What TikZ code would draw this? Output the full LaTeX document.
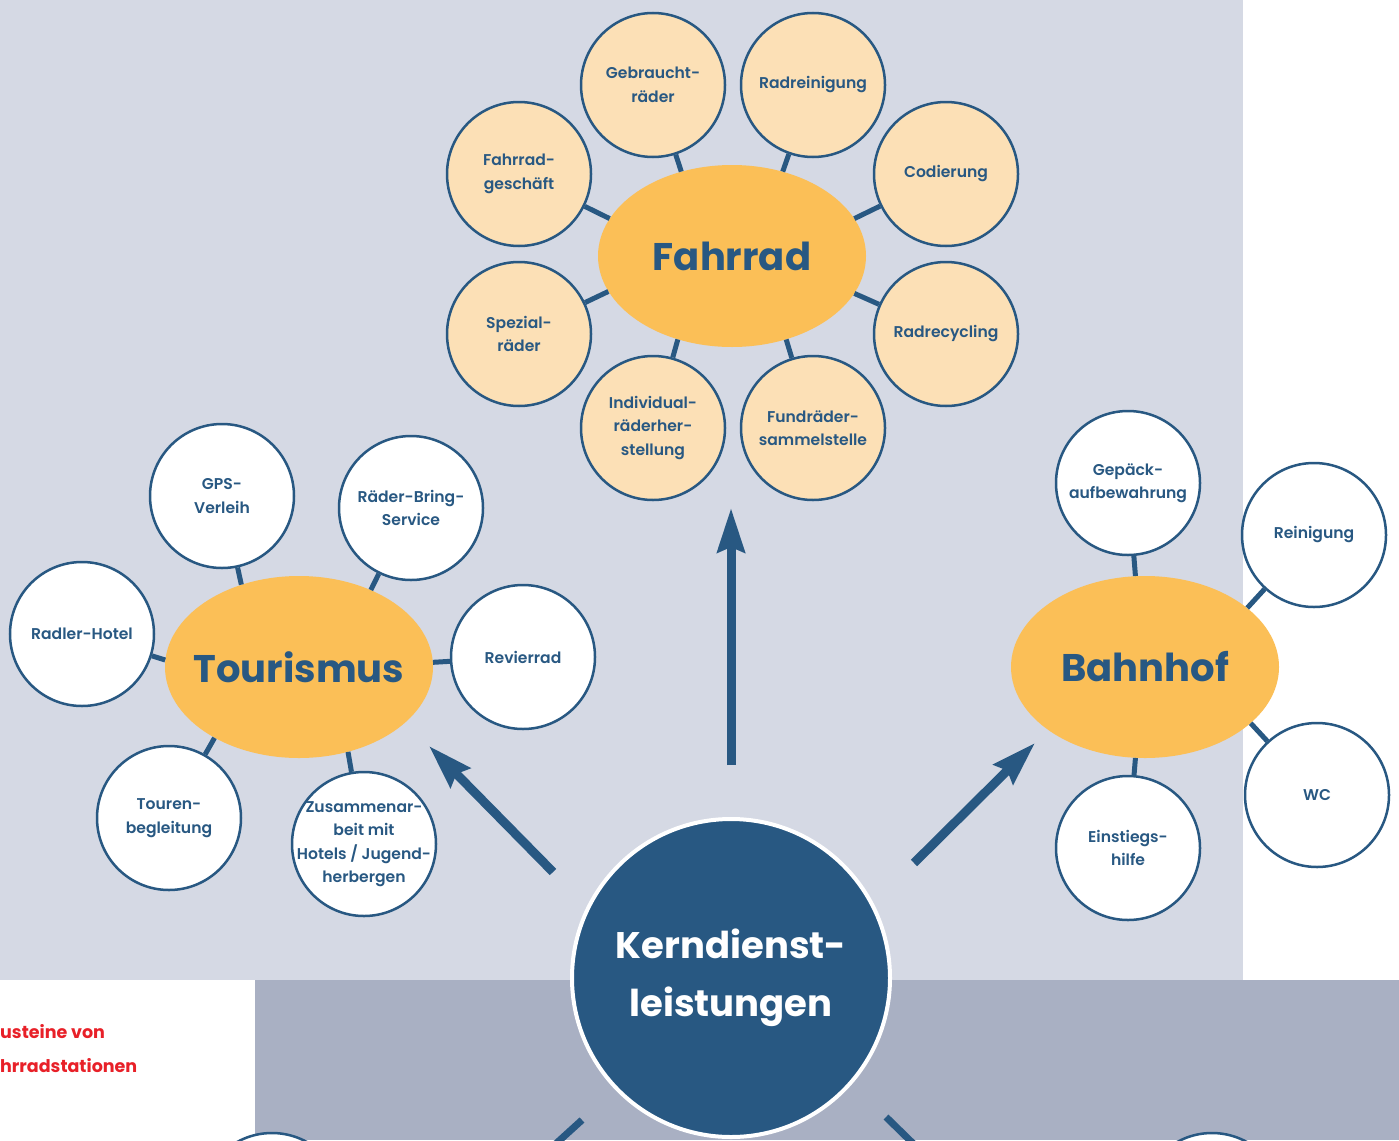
\documentclass[tikz,border=0pt]{standalone}
\usepackage{fontspec}
\setmainfont{Poppins}
\newfontfamily\semi{Poppins SemiBold}
\usetikzlibrary{arrows.meta,shapes.geometric}
\definecolor{bgl}{RGB}{213,217,228}
\definecolor{bgd}{RGB}{169,176,195}
\definecolor{dblue}{RGB}{40,88,130}
\definecolor{orng}{RGB}{251,191,87}
\definecolor{peach}{RGB}{252,224,182}
\definecolor{rred}{RGB}{232,32,40}
\tikzset{
  sat/.style={circle, draw=dblue, line width=2.5pt, minimum size=144pt, inner sep=-22pt,
    align=center, font=\semi\fontsize{15.6}{23.5}\selectfont, text=dblue},
  fsat/.style={sat, fill=peach},
  wsat/.style={sat, fill=white},
  hub/.style={ellipse, fill=orng, minimum width=268pt, minimum height=182pt, inner sep=-60pt,
    font=\bfseries\fontsize{38.5}{38.5}\selectfont, text=dblue},
  link/.style={draw=dblue, line width=5pt},
  bigarrow/.style={draw=dblue, line width=9pt, -{Stealth[length=44pt,width=27pt,inset=5pt]}},
  redtxt/.style={anchor=base west, inner sep=0pt, text=rred, font=\bfseries\fontsize{17.5}{17.5}\selectfont}
}
\begin{document}
\begin{tikzpicture}[x=1pt,y=-1pt]
\useasboundingbox (0,0) rectangle (1399,1140);
\clip (0,0) rectangle (1399,1140);
\fill[white] (0,0) rectangle (1399,1140);
\fill[bgl] (0,0) rectangle (1243,980);
\fill[bgd] (255,980) rectangle (1399,1140);

\node[redtxt] (t1) at (0,1038) {usteine von};
\node[redtxt] (t2) at (0,1072) {hrradstationen};

% hubs
\node[hub] (fah) at (732,256) {Fahrrad};
\node[hub] (tou) at (299,667) {Tourismus};
\node[hub] (bah) at (1145,667) {Bahnhof};

% Fahrrad satellites
\node[fsat] (geb) at (653,85) {Gebraucht-\\räder};
\node[fsat] (rein) at (813,85) {Radreinigung};
\node[fsat] (ges) at (519,174) {Fahrrad-\\geschäft};
\node[fsat] (cod) at (946,174) {Codierung};
\node[fsat] (spe) at (519,334) {Spezial-\\räder};
\node[fsat] (rec) at (946,334) {Radrecycling};
\node[fsat] (ind) at (653,428) {Individual-\\räderher-\\stellung};
\node[fsat] (fund) at (813,428) {Fundräder-\\sammelstelle};

% Tourismus satellites
\node[wsat] (gps) at (222,496) {GPS-\\Verleih};
\node[wsat] (bring) at (411,508) {Räder-Bring-\\Service};
\node[wsat] (hotel) at (82,634) {Radler-Hotel};
\node[wsat] (rev) at (523,657) {Revierrad};
\node[wsat] (tbg) at (169,818) {Touren-\\begleitung};
\node[wsat] (zus) at (364,844) {Zusammenar-\\beit mit\\Hotels / Jugend-\\herbergen};

% Bahnhof satellites
\node[wsat] (gep) at (1128,483) {Gepäck-\\aufbewahrung};
\node[wsat] (brein) at (1314,535) {Reinigung};
\node[wsat] (wc) at (1317,795) {WC};
\node[wsat] (ein) at (1128,848) {Einstiegs-\\hilfe};

% bottom (cut) satellites
\node[wsat] (bl) at (272,1205) {};
\node[wsat] (br) at (1212,1205) {};

% links
\draw[link] (geb) -- (fah.121);
\draw[link] (rein) -- (fah.59);
\draw[link] (ges) -- (fah.163);
\draw[link] (cod) -- (fah.17);
\draw[link] (spe) -- (fah.196);
\draw[link] (rec) -- (fah.343);
\draw[link] (ind) -- (fah.237);
\draw[link] (fund) -- (fah.303);

\draw[link] (gps) -- (tou.125);
\draw[link] (bring) -- (tou.47);
\draw[link] (hotel) -- (tou.177);
\draw[link] (rev) -- (tou.2);
\draw[link] (tbg) -- (tou.220);
\draw[link] (zus) -- (tou.300);

\draw[link] (gep) -- (bah.96);
\draw[link] (brein) -- (bah.30);
\draw[link] (wc) -- (bah.332);
\draw[link] (ein) -- (bah.264);

% core
\node[circle, fill=dblue, draw=white, line width=4pt, minimum size=318pt, inner sep=0pt,
  align=center, text=white, font=\bfseries\fontsize{37}{58}\selectfont] (kern) at (731,978)
  {Kerndienst-\\leistungen};

% arrows
\coordinate (au1) at (731,765); \coordinate (au2) at (731,508);
\coordinate (al1) at (553,872); \coordinate (al2) at (429,746);
\coordinate (ar1) at (914,863); \coordinate (ar2) at (1035,743);
\draw[bigarrow] (au1) -- (au2);
\draw[bigarrow] (al1) -- (al2);
\draw[bigarrow] (ar1) -- (ar2);

% bottom connectors (cut)
\coordinate (kbl1) at (582,1120); \coordinate (kbl2) at (538,1160);
\coordinate (kbr1) at (886,1117); \coordinate (kbr2) at (930,1160);
\draw[draw=dblue, line width=7pt] (kbl1) -- (kbl2);
\draw[draw=dblue, line width=7pt] (kbr1) -- (kbr2);
\end{tikzpicture}
\end{document}
